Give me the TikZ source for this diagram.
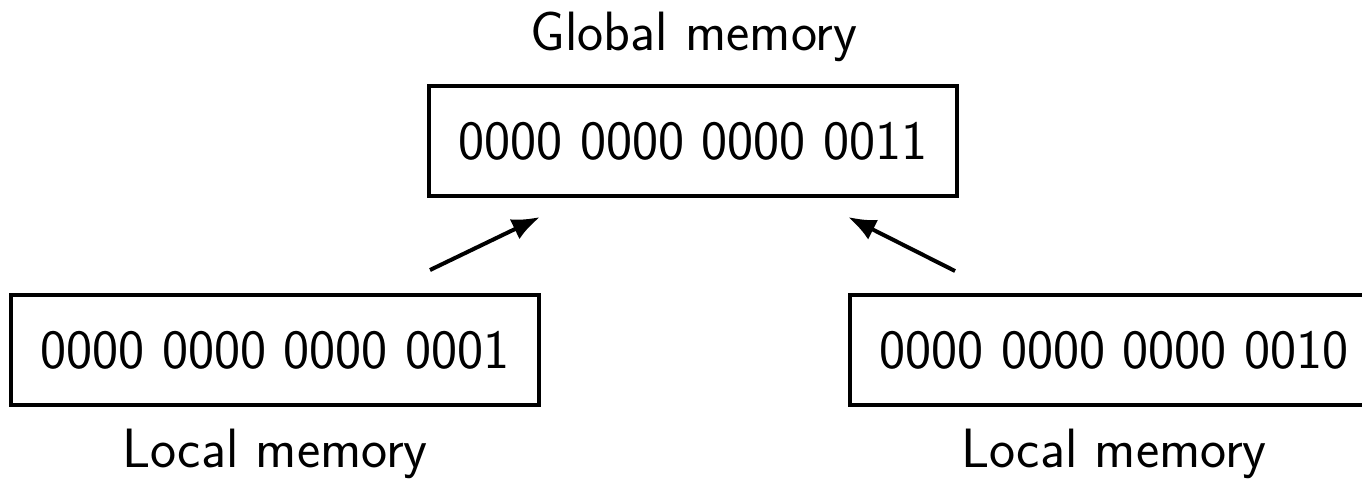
\documentclass[tikz,border=0pt]{standalone}
\usetikzlibrary{arrows.meta}
\begin{document}
\begin{tikzpicture}[x=0.5pt,y=-0.5pt,
    font=\sffamily\fontsize{27.7}{33}\selectfont,
    membox/.style={draw, line width=2pt, minimum width=264pt, minimum height=55pt, inner sep=0pt},
    caption/.style={anchor=base, inner sep=0pt},
    push/.style={line width=2pt, -{Latex[length=14pt,width=11pt]}}]
  \useasboundingbox (0,0) rectangle (1362,479);
  % memory cells
  \node[membox] (global) at (693,141) {0000 0000 0000 0011};
  \node[membox] (left) at (275,350) {0000 0000 0000 0001};
  \node[membox] (right) at (1114,350) {0000 0000 0000 0010};
  % captions
  \node[caption] (gcap) at (694,50) {Global memory};
  \node[caption] (lcap) at (275,467) {Local memory};
  \node[caption] (rcap) at (1114,467) {Local memory};
  % arrow end points
  \coordinate (ls) at (430,270);
  \coordinate (lt) at (540,217);
  \coordinate (rs) at (955,271);
  \coordinate (rt) at (848,217);
  \draw[push] (ls) -- (lt);
  \draw[push] (rs) -- (rt);
\end{tikzpicture}
\end{document}
